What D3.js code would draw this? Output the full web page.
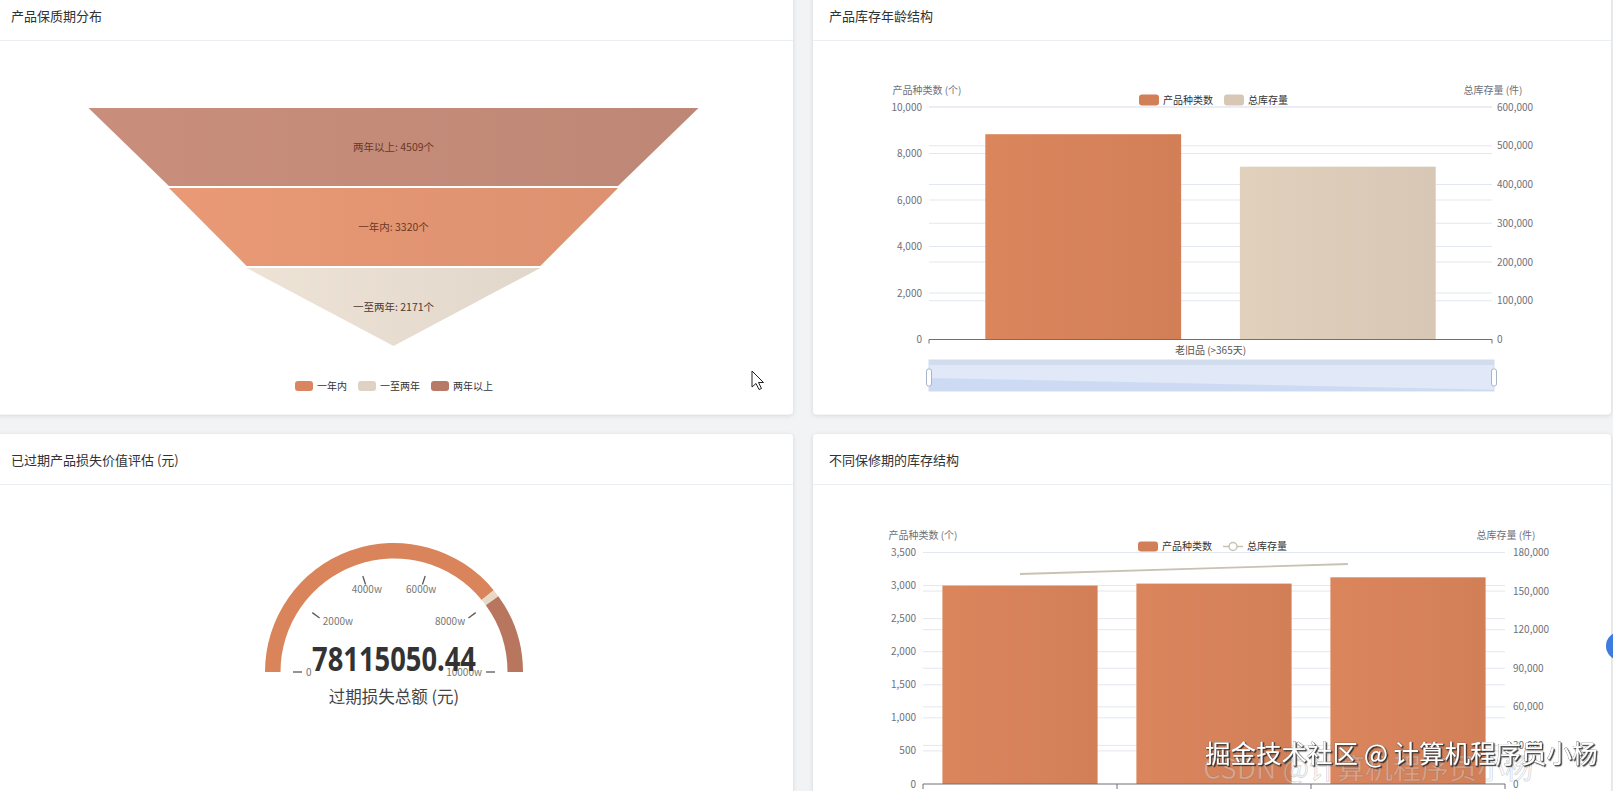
<!DOCTYPE html>
<html><head><meta charset="utf-8">
<script src="https://cdn.jsdelivr.net/npm/d3@7"></script>
<style>
html,body{margin:0;padding:0;background:#f2f3f5;overflow:hidden;}
svg{display:block;font-family:"Noto Sans CJK SC","Noto Sans",sans-serif;}
</style></head><body>
<svg id="c" width="1613" height="791"></svg>
<script>
// ---------------- data ----------------
const panelTitles = ["产品保质期分布", "产品库存年龄结构", "已过期产品损失价值评估 (元)", "不同保修期的库存结构"];

const shelfCategories = ["一年内", "一至两年", "两年以上"];
const shelfValues = [3320, 2171, 4509];
const shelfColors = ["#d98560", "#ddd2c4", "#b77a66"];
const shelfUnit = "个";

const ageCategories = ["老旧品 (>365天)"];
const ageSeries = ["产品种类数", "总库存量"];
const ageKinds = [8830];
const ageStock = [446000];
const ageLeftTicks = [0, 2000, 4000, 6000, 8000, 10000];
const ageRightTicks = [0, 100000, 200000, 300000, 400000, 500000, 600000];
const ageAxisNames = ["产品种类数 (个)", "总库存量 (件)"];
const ageColors = ["#d27f58", "#d8c7b4"];

const lossValue = 78115050.44;
const lossTicks = [0, 20000000, 40000000, 60000000, 80000000, 100000000];
const lossTickLabels = ["0", "2000w", "4000w", "6000w", "8000w", "10000w"];
const lossBandStop = 80000000;
const lossName = "过期损失总额 (元)";
const lossColors = ["#d9845a", "#e8d8c6", "#b8765f"];

// category names are below the visible area of the screenshot
const warrantyCategories = ["保修期内", "保修即将到期", "已过保修期"];
const warrantySeries = ["产品种类数", "总库存量"];
const warrantyKinds = [3000, 3030, 3125];
const warrantyStock = [163300, 167900, 172500];
const warrantyLeftTicks = [0, 500, 1000, 1500, 2000, 2500, 3000, 3500];
const warrantyRightTicks = [0, 30000, 60000, 90000, 120000, 150000, 180000];
const warrantyAxisNames = ["产品种类数 (个)", "总库存量 (件)"];
const warrantyColors = ["#d27f58", "#c9c2b3"];

const watermark = "掘金技术社区 @ 计算机程序员小杨";
const watermark2 = "CSDN @计算机程序员小杨";

// ---------------- setup ----------------
const svg = d3.select("#c");
const defs = svg.append("defs");
const fmt = d3.format(",");
const AXC = "#6e7079", GRID = "#e3e7ef";

defs.append("filter").attr("id", "sh").attr("x", "-5%").attr("y", "-5%").attr("width", "110%").attr("height", "110%")
  .append("feDropShadow").attr("dx", 0).attr("dy", 1).attr("stdDeviation", 2.2)
  .attr("flood-color", "#000").attr("flood-opacity", 0.13);
const wf = defs.append("filter").attr("id", "wm").attr("x", "-5%").attr("y", "-30%").attr("width", "110%").attr("height", "160%");
wf.append("feDropShadow").attr("dx", 1.2).attr("dy", 1.2).attr("stdDeviation", 0.7)
  .attr("flood-color", "#222").attr("flood-opacity", 0.85);

function hGrad(id, base, k) {
  const g = defs.append("linearGradient").attr("id", id).attr("x1", 0).attr("x2", 1).attr("y1", 0).attr("y2", 0);
  g.append("stop").attr("offset", 0).attr("stop-color", d3.color(base).brighter(k).formatHex());
  g.append("stop").attr("offset", 1).attr("stop-color", base);
  return `url(#${id})`;
}

// panels
const panels = [
  {x: -5, y: -10, w: 798, h: 424.5},
  {x: 813, y: -10, w: 798, h: 424.5},
  {x: -5, y: 434, w: 798, h: 420},
  {x: 813, y: 434, w: 798, h: 420}
];
panels.forEach((p, i) => {
  svg.append("rect").attr("x", p.x).attr("y", p.y).attr("width", p.w).attr("height", p.h)
    .attr("rx", 4).attr("fill", "#fff").attr("filter", "url(#sh)");
  svg.append("line").attr("x1", p.x).attr("x2", p.x + p.w).attr("y1", p.y + 50.5).attr("y2", p.y + 50.5)
    .attr("stroke", "#ebeef3").attr("stroke-width", 1);
  svg.append("text").attr("x", p.x + 16).attr("y", p.y + 31).attr("font-size", 13)
    .attr("fill", "#303133").text(panelTitles[i]);
});

function legend(g, items, cx, cy, opts) {
  const gap = 11, tg = 4;
  const grp = g.append("g");
  let xcur = 0;
  items.forEach(it => {
    const ig = grp.append("g").attr("transform", `translate(${xcur},0)`);
    if (it.type === "line") {
      ig.append("line").attr("x1", 0).attr("x2", opts.w).attr("y1", 0).attr("y2", 0)
        .attr("stroke", it.color).attr("stroke-width", 1.5);
      ig.append("circle").attr("cx", opts.w / 2).attr("cy", 0).attr("r", 4)
        .attr("fill", "#fff").attr("stroke", it.color).attr("stroke-width", 1.5);
    } else {
      ig.append("rect").attr("x", 0).attr("y", -opts.h / 2).attr("width", opts.w).attr("height", opts.h)
        .attr("rx", 3).attr("fill", it.color);
    }
    const t = ig.append("text").attr("x", opts.w + tg).attr("y", 0).attr("dy", "0.35em")
      .attr("font-size", 10).attr("fill", "#333").text(it.name);
    xcur += opts.w + tg + t.node().getComputedTextLength() + gap;
  });
  const total = xcur - gap;
  grp.attr("transform", `translate(${cx - total / 2},${cy})`);
}

// ---------------- funnel ----------------
(function () {
  const g = svg.append("g");
  const order = d3.sort(d3.range(shelfValues.length), (a, b) => shelfValues[b] - shelfValues[a]);
  const fy = d3.scaleBand().domain(order).range([108, 346]).paddingInner(0.025);
  const fw = d3.scaleLinear().domain([0, d3.max(shelfValues)]).range([0, 610]);
  const cx = 393.5;
  order.forEach((idx, i) => {
    const nxt = order[i + 1];
    const wt = fw(shelfValues[idx]);
    const wb = nxt === undefined ? fw(0) : fw(shelfValues[nxt]);
    const y0 = fy(idx), y1 = y0 + fy.bandwidth();
    const fill = hGrad("fg" + idx, shelfColors[idx], 0.18);
    g.append("path")
      .attr("d", d3.line()([[cx - wt / 2, y0], [cx + wt / 2, y0], [cx + wb / 2, y1], [cx - wb / 2, y1]]) + "Z")
      .attr("fill", fill).attr("opacity", 0.9);
    g.append("text").attr("x", cx).attr("y", y0 + fy.bandwidth() / 2).attr("dy", "0.35em")
      .attr("text-anchor", "middle").attr("font-size", 10.5)
      .attr("fill", idx === 1 ? "#4a3a32" : "#6a3826")
      .text(`${shelfCategories[idx]}: ${shelfValues[idx]}${shelfUnit}`);
  });
  legend(g, shelfCategories.map((n, i) => ({name: n, color: shelfColors[i]})), 394, 386, {w: 18, h: 10});
})();

// ---------------- age structure ----------------
(function () {
  const g = svg.append("g");
  const L = 929, R = 1492, T = 107, B = 339.5;
  const x = d3.scaleBand().domain(ageCategories).range([L, R]);
  const yL = d3.scaleLinear().domain([0, d3.max(ageLeftTicks)]).range([B, T]);
  const yR = d3.scaleLinear().domain([0, d3.max(ageRightTicks)]).range([B, T]);
  ageLeftTicks.forEach(t => { if (t) g.append("line").attr("x1", L).attr("x2", R).attr("y1", yL(t)).attr("y2", yL(t)).attr("stroke", GRID); });
  ageRightTicks.forEach(t => { if (t) g.append("line").attr("x1", L).attr("x2", R).attr("y1", yR(t)).attr("y2", yR(t)).attr("stroke", GRID); });
  ageLeftTicks.forEach(t => g.append("text").attr("x", L - 7).attr("y", yL(t)).attr("dy", "0.35em")
    .attr("text-anchor", "end").attr("font-size", 10).attr("fill", AXC).text(fmt(t)));
  ageRightTicks.forEach(t => g.append("text").attr("x", R + 5).attr("y", yR(t)).attr("dy", "0.35em")
    .attr("font-size", 10).attr("fill", AXC).text(fmt(t)));
  g.append("text").attr("x", L - 2).attr("y", 93.5).attr("text-anchor", "middle").attr("font-size", 10).attr("fill", AXC).text(ageAxisNames[0]);
  g.append("text").attr("x", R + 1).attr("y", 93.5).attr("text-anchor", "middle").attr("font-size", 10).attr("fill", AXC).text(ageAxisNames[1]);

  const bw = x.bandwidth(), barW = bw * 0.8 / 2.3;
  const series = [{vals: ageKinds, y: yL}, {vals: ageStock, y: yR}];
  ageCategories.forEach((c, ci) => {
    series.forEach((s, si) => {
      const x0 = x(c) + bw * 0.1 + si * barW * 1.3;
      g.append("rect").attr("x", x0).attr("y", s.y(s.vals[ci])).attr("width", barW)
        .attr("height", B - s.y(s.vals[ci])).attr("fill", hGrad("ab" + si, ageColors[si], 0.12));
    });
    g.append("text").attr("x", x(c) + bw / 2).attr("y", B + 14).attr("text-anchor", "middle")
      .attr("font-size", 10).attr("fill", "#555").text(c);
  });
  g.append("line").attr("x1", L).attr("x2", R).attr("y1", B).attr("y2", B).attr("stroke", AXC);
  x.domain().forEach(c => [x(c), x(c) + bw].forEach(px => g.append("line").attr("x1", px).attr("x2", px)
    .attr("y1", B).attr("y2", B + 4).attr("stroke", AXC)));
  legend(g, ageSeries.map((n, i) => ({name: n, color: ageColors[i]})), (L + R) / 2 + 3, 100, {w: 20, h: 11});

  // data zoom slider
  const sx = L, sw = R + 2 - L, sy = 360, sh = 31;
  const dz = g.append("g");
  dz.append("rect").attr("x", sx).attr("y", sy).attr("width", sw).attr("height", sh)
    .attr("fill", "#e1e9f8").attr("stroke", "#d3dcec");
  dz.append("rect").attr("x", sx).attr("y", sy).attr("width", sw).attr("height", 5).attr("fill", "#d2dcef");
  const shy = d3.scaleLinear().domain([0, 1]).range([sy + sh, sy + 5]);
  dz.append("path").attr("d", d3.area().x(d => sx + d[0] * sw).y0(sy + sh).y1(d => shy(d[1]))([[0, 0.5], [1, 0.05]]))
    .attr("fill", "#cad8f2").attr("opacity", 0.9);
  [sx, sx + sw].forEach(hx => dz.append("rect").attr("x", hx - 2.5).attr("y", sy + 9).attr("width", 5).attr("height", 17)
    .attr("rx", 2).attr("fill", "#fff").attr("stroke", "#a8b4ca"));
})();

// ---------------- gauge ----------------
(function () {
  const g = svg.append("g").attr("transform", "translate(394,672)");
  const a = d3.scaleLinear().domain([0, d3.max(lossTicks)]).range([-Math.PI / 2, Math.PI / 2]);
  const arc = d3.arc().innerRadius(113.5).outerRadius(129);
  const segs = [[0, lossValue, lossColors[0]], [lossValue, lossBandStop, lossColors[1]], [lossBandStop, d3.max(lossTicks), lossColors[2]]];
  segs.forEach(s => g.append("path").attr("d", arc({startAngle: a(s[0]), endAngle: a(s[1])})).attr("fill", s[2]));
  lossTicks.forEach((t, i) => {
    const th = Math.PI / 2 - a(t);
    const ux = Math.cos(th), uy = -Math.sin(th);
    g.append("line").attr("x1", 92 * ux).attr("y1", 92 * uy).attr("x2", 101 * ux).attr("y2", 101 * uy)
      .attr("stroke", "#595959").attr("stroke-width", 1.3);
    const r = 88;
    const anchor = ux < -0.4 ? "start" : ux > 0.4 ? "end" : "middle";
    const dy = uy < -0.4 ? "0.85em" : uy > 0.4 ? "-0.2em" : "0.35em";
    g.append("text").attr("x", r * ux).attr("y", r * uy - (uy < -0.4 ? 4 : 0)).attr("dy", dy)
      .attr("text-anchor", anchor).attr("font-size", 10).attr("fill", "#777").text(lossTickLabels[i]);
  });
  g.append("text").attr("x", 0).attr("y", -1).attr("text-anchor", "middle")
    .attr("font-size", 34).attr("font-weight", "bold").attr("fill", "#333")
    .attr("font-family", "'Liberation Sans Narrow','Noto Sans',sans-serif")
    .attr("textLength", 164).attr("lengthAdjust", "spacingAndGlyphs")
    .text(lossValue.toFixed(2));
  g.append("text").attr("x", 0).attr("y", 31).attr("text-anchor", "middle")
    .attr("font-size", 16.5).attr("fill", "#444").text(lossName);
})();

// ---------------- warranty structure ----------------
(function () {
  const g = svg.append("g");
  const L = 923, R = 1505, T = 552.5, B = 784;
  const x = d3.scaleBand().domain(warrantyCategories).range([L, R]);
  const yL = d3.scaleLinear().domain([0, d3.max(warrantyLeftTicks)]).range([B, T]);
  const yR = d3.scaleLinear().domain([0, d3.max(warrantyRightTicks)]).range([B, T]);
  warrantyLeftTicks.forEach(t => { if (t) g.append("line").attr("x1", L).attr("x2", R).attr("y1", yL(t)).attr("y2", yL(t)).attr("stroke", GRID); });
  warrantyRightTicks.forEach(t => { if (t) g.append("line").attr("x1", L).attr("x2", R).attr("y1", yR(t)).attr("y2", yR(t)).attr("stroke", GRID); });
  warrantyLeftTicks.forEach(t => g.append("text").attr("x", L - 7).attr("y", yL(t)).attr("dy", "0.35em")
    .attr("text-anchor", "end").attr("font-size", 10).attr("fill", AXC).text(fmt(t)));
  warrantyRightTicks.forEach(t => g.append("text").attr("x", R + 8).attr("y", yR(t)).attr("dy", "0.35em")
    .attr("font-size", 10).attr("fill", AXC).text(fmt(t)));
  g.append("text").attr("x", L).attr("y", 538.5).attr("text-anchor", "middle").attr("font-size", 10).attr("fill", AXC).text(warrantyAxisNames[0]);
  g.append("text").attr("x", R + 1).attr("y", 538.5).attr("text-anchor", "middle").attr("font-size", 10).attr("fill", AXC).text(warrantyAxisNames[1]);

  const bw = x.bandwidth();
  warrantyCategories.forEach((c, i) => {
    g.append("rect").attr("x", x(c) + bw * 0.1).attr("y", yL(warrantyKinds[i])).attr("width", bw * 0.8)
      .attr("height", B - yL(warrantyKinds[i])).attr("fill", hGrad("wb" + i, warrantyColors[0], 0.12));
  });
  g.append("line").attr("x1", L).attr("x2", R).attr("y1", B).attr("y2", B).attr("stroke", AXC);
  d3.range(warrantyCategories.length + 1).forEach(k => g.append("line").attr("x1", L + k * bw).attr("x2", L + k * bw)
    .attr("y1", B).attr("y2", B + 5).attr("stroke", AXC));

  // line (captured mid-animation: revealed up to ~73% of plot width)
  defs.append("clipPath").attr("id", "lineclip").append("rect")
    .attr("x", L).attr("y", T - 20).attr("width", (R - L) * 0.73).attr("height", B - T + 40);
  g.append("path").attr("clip-path", "url(#lineclip)")
    .attr("d", d3.line().x((d, i) => x(warrantyCategories[i]) + bw / 2).y(d => yR(d))(warrantyStock))
    .attr("fill", "none").attr("stroke", warrantyColors[1]).attr("stroke-width", 1.8);

  legend(g, [{name: warrantySeries[0], color: warrantyColors[0]}, {name: warrantySeries[1], color: warrantyColors[1], type: "line"}],
    1212.5, 546.5, {w: 20, h: 10});
})();

// ---------------- overlays (screenshot artifacts) ----------------
svg.append("circle").attr("cx", 1620).attr("cy", 646).attr("r", 14).attr("fill", "#3d7be0");
svg.append("path").attr("transform", "translate(752,371)")
  .attr("d", "M0,0 L0,16 L4,12.5 L7,18.5 L9.5,17.5 L6.5,11.5 L11.5,11.5 Z")
  .attr("fill", "#fff").attr("stroke", "#222").attr("stroke-width", 1);
svg.append("text").attr("x", 1203).attr("y", 779).attr("font-size", 28)
  .attr("fill", "rgba(255,255,255,0.3)").attr("stroke", "rgba(110,110,110,0.3)").attr("stroke-width", 0.8)
  .text(watermark2);
svg.append("text").attr("x", 1205).attr("y", 763).attr("font-size", 25.5)
  .attr("fill", "#fff").attr("stroke", "#666").attr("stroke-width", 0.6).attr("paint-order", "stroke")
  .attr("filter", "url(#wm)").text(watermark);
</script>
</body></html>
